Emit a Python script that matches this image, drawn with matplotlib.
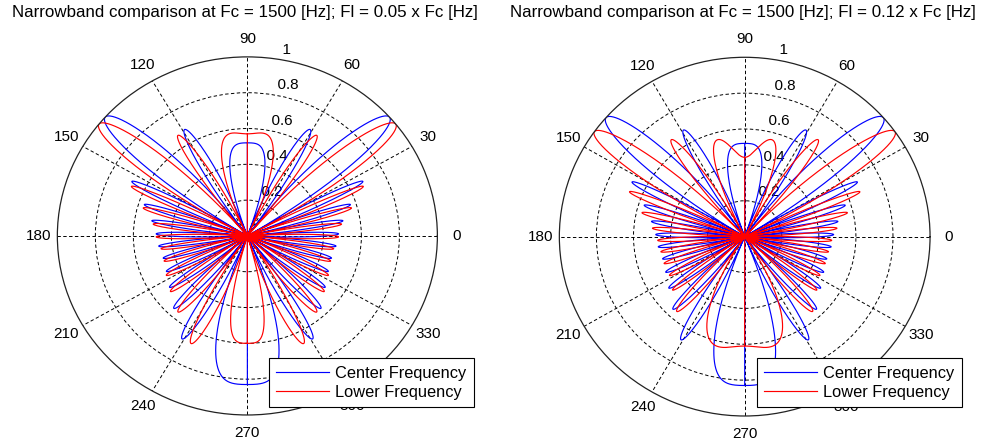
import numpy as np
import matplotlib.pyplot as plt

plt.rcParams['font.family'] = ['Liberation Sans', 'DejaVu Sans']
plt.rcParams['font.size'] = 11

# lobe peaks of each beam pattern, right half (90 -> -90 deg); left half is the mirror image
# *_WIDTH: relative lobe width used to split the gap between neighbouring peaks
CF_PEAK_DEG = [90, 62, 41.5, 26.5, 18, 9.5, 1.5, -7, -15.5, -25, -35, -46.5, -60, -90]
CF_PEAK_VAL = [0.52, 0.68, 1.00, 0.68, 0.57, 0.51, 0.48, 0.47, 0.46, 0.47, 0.50, 0.56, 0.67, 0.83]
CF_WIDTH = [1.1, 1, 2, 1, 1, 1, 1, 1, 1, 1, 1, 1, 1, 1.4]

LF05_PEAK_DEG = [82, 58, 37.8, 24.5, 16, 7.5, -0.5, -9, -17.5, -27.5, -37.5, -49, -66.5, -90]
LF05_PEAK_VAL = [0.58, 0.67, 1.00, 0.67, 0.57, 0.50, 0.48, 0.46, 0.46, 0.48, 0.51, 0.56, 0.67, 0.60]
LF05_WIDTH = [1.4, 1, 2, 1, 1, 1, 1, 1, 1, 1, 1, 1, 1, 1]

LF12_PEAK_DEG = [75, 53.5, 35.3, 22, 13.6, 5.3, -2.5, -10.5, -19, -28, -38, -47, -77.5]
LF12_PEAK_VAL = [0.56, 0.67, 1.00, 0.67, 0.57, 0.50, 0.47, 0.46, 0.46, 0.46, 0.49, 0.555, 0.63]
LF12_WIDTH = [1, 1, 2, 1, 1, 1, 1, 1, 1, 1, 1, 1, 1.5]

TITLES = ["Narrowband comparison at Fc = 1500 [Hz]; Fl = 0.05 x Fc [Hz]",
          "Narrowband comparison at Fc = 1500 [Hz]; Fl = 0.12 x Fc [Hz]"]
ANGLE_TICKS = list(range(0, 360, 30))
R_TICKS = [0.2, 0.4, 0.6, 0.8, 1.0]
R_TICK_LABELS = ["0.2", "0.4", "0.6", "0.8", "1"]


def pattern(peak_deg, peak_val, width):
    """Right-half pattern r(theta): one sine lobe per peak, lobes separated in sin(theta)."""
    u_pk = np.sin(np.deg2rad(peak_deg))
    w = np.asarray(width, float)
    frac = w[:-1] / (w[:-1] + w[1:])
    nulls = u_pk[:-1] - (u_pk[:-1] - u_pk[1:]) * frac
    edges = np.concatenate([[2 * u_pk[0] - nulls[0]], nulls, [2 * u_pk[-1] - nulls[-1]]])
    theta = np.linspace(-90, 90, 3601)
    u = np.sin(np.deg2rad(theta))
    r = np.zeros_like(u)
    for k, val in enumerate(peak_val):
        hi, lo = edges[k], edges[k + 1]
        m = (u <= hi) & (u >= lo)
        r[m] = val * np.sin(np.pi * (hi - u[m]) / (hi - lo))
    return theta, r


def polar_path(peak_deg, peak_val, width):
    # right half -90 -> 90, through the origin, then mirrored half 270 -> 90
    th, r = pattern(peak_deg, peak_val, width)
    th_all = np.concatenate([th, [90, 270], 180 - th])
    r_all = np.concatenate([r, [0, 0], r])
    return np.deg2rad(th_all), r_all


def setup_polar(ax):
    ax.set_aspect('auto')
    ax.set_ylim(0, 1)
    ax.set_xticks(np.deg2rad(ANGLE_TICKS))
    ax.set_xticklabels([])
    ax.set_yticks(R_TICKS[:-1])
    ax.set_yticklabels([])
    ax.grid(True, color='k', linestyle=(0, (3.5, 2.5)), linewidth=0.7)
    ax.set_axisbelow(True)
    ax.spines['polar'].set_color('#222222')
    ax.spines['polar'].set_linewidth(0.9)
    for a in ANGLE_TICKS:
        ax.text(np.deg2rad(a), 1.1, str(a), ha='center', va='center', clip_on=False)
    for rt, lab in zip(R_TICKS, R_TICK_LABELS):
        ax.text(np.deg2rad(82), rt + 0.01, "  " + lab, ha='left', va='bottom',
                clip_on=False, zorder=1)


fig = plt.figure(figsize=(9.82, 4.41), dpi=100)

panels = [
    ([0.0584, 0.059, 0.387, 0.812], (LF05_PEAK_DEG, LF05_PEAK_VAL, LF05_WIDTH), 0.249, (0.4827, 0.0771)),
    ([0.5696, 0.0567, 0.3775, 0.8134], (LF12_PEAK_DEG, LF12_PEAK_VAL, LF12_WIDTH), 0.7563, (0.9796, 0.0764)),
]

for (rect, lower, tx, leg_xy), title in zip(panels, TITLES):
    ax = fig.add_axes(rect, projection='polar')
    setup_polar(ax)
    th, r = polar_path(CF_PEAK_DEG, CF_PEAK_VAL, CF_WIDTH)
    ax.plot(th, r, color='#0000ff', lw=0.85, label='Center Frequency', zorder=2)
    th, r = polar_path(*lower)
    ax.plot(th, r, color='#ff0000', lw=0.85, label='Lower Frequency', zorder=2)
    leg = ax.legend(loc='lower right', bbox_to_anchor=leg_xy, bbox_transform=fig.transFigure,
                    fancybox=False, framealpha=1, edgecolor='k', borderaxespad=0,
                    handlelength=3.2, handletextpad=0.4, labelspacing=0.25,
                    borderpad=0.45, fontsize=11.8)
    leg.get_frame().set_linewidth(0.8)
    leg.set_zorder(10)
    fig.text(tx, 0.9717, title, ha='center', va='center', fontsize=12.2)

fig.savefig('out.png', dpi=100)
